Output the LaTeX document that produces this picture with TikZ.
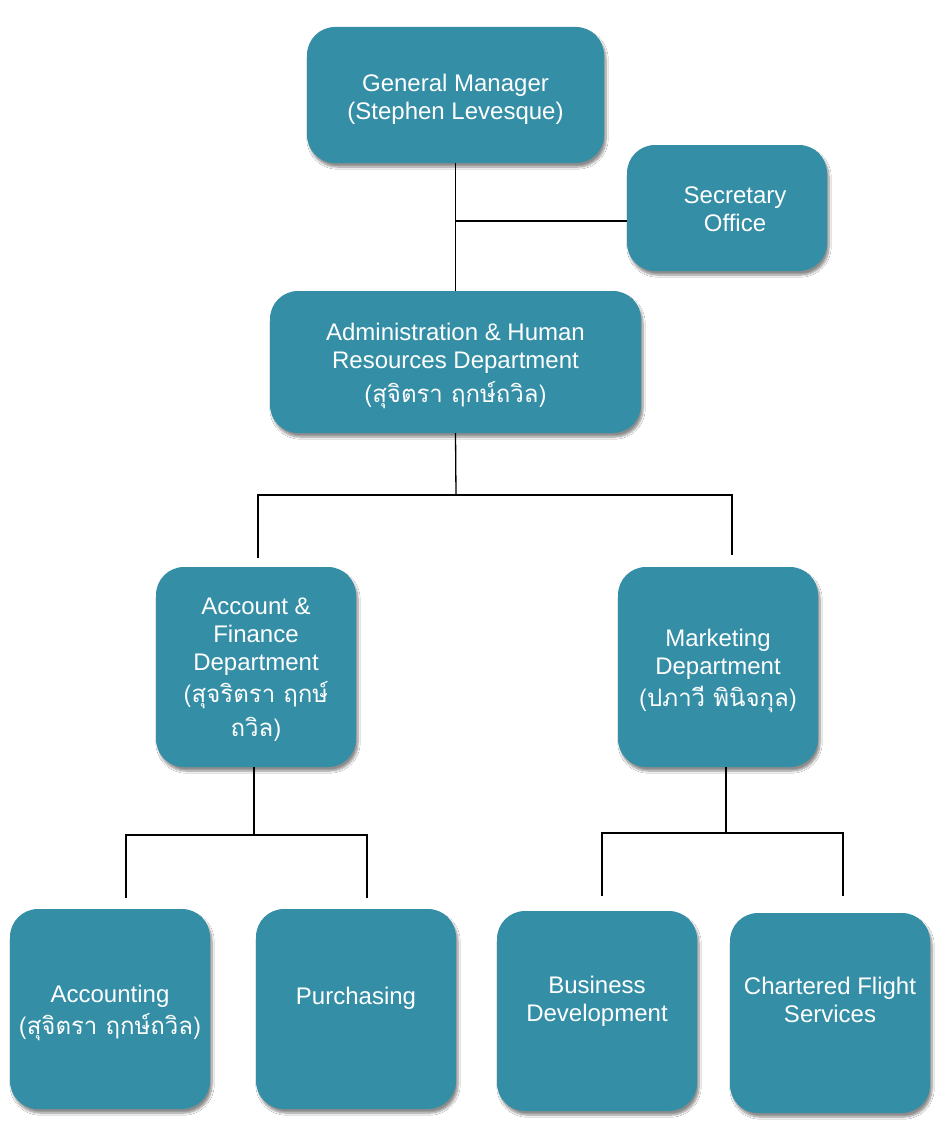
\documentclass[tikz,border=0pt]{standalone}
\usepackage{fontspec}
\setmainfont{Liberation Sans}
\newfontfamily\thai[Script=Thai]{Loma}
\usetikzlibrary{shadows.blur}
\definecolor{boxfill}{RGB}{52,142,166}
\begin{document}
\begin{tikzpicture}[x=1pt,y=-1pt,
  box/.style={fill=boxfill, rounded corners=28pt, inner sep=0pt,
    blur shadow={shadow xshift=2pt, shadow yshift=-4pt, shadow opacity=45, shadow blur steps=8}},
  txt/.style={text=white, align=center, inner sep=0pt, font=\fontsize{24}{28}\selectfont},
  conn/.style={draw=black, line width=1.3pt}]
\useasboundingbox[fill=white] (0,0) rectangle (944,1132);
% boxes
\node[box, minimum width=297pt, minimum height=136pt] (gm) at (455.5,95) {};
\node[box, minimum width=200pt, minimum height=126pt] (sec) at (727,208) {};
\node[box, minimum width=371pt, minimum height=142pt] (admin) at (455.5,362) {};
\node[box, minimum width=200pt, minimum height=200pt] (af) at (256,667) {};
\node[box, minimum width=200pt, minimum height=200pt] (mkt) at (718,667) {};
\node[box, minimum width=200pt, minimum height=200pt] (acc) at (110,1009) {};
\node[box, minimum width=200pt, minimum height=200pt] (pur) at (356,1009) {};
\node[box, minimum width=200pt, minimum height=200pt] (bd) at (597,1011) {};
\node[box, minimum width=200pt, minimum height=200pt] (cf) at (830,1013) {};
% texts
\node[txt, yshift=-4pt] (gmt) at (gm.center) {General Manager\\(Stephen Levesque)};
\node[txt, yshift=-1pt, xshift=8pt] (sect) at (sec.center) {Secretary\\Office};
\node[txt, yshift=-4pt] (admint) at (admin.center) {Administration \& Human\\Resources Department\\[6pt]{\thai (สุจิตรา ฤกษ์ถวิล)}};
\node[txt, yshift=-3pt] (aft) at (af.center) {Account \&\\Finance\\Department\\[4pt]{\thai (สุจริตรา ฤกษ์}\\[6pt]{\thai ถวิล)}};
\node[txt, yshift=-4pt] (mktt) at (mkt.center) {Marketing\\Department\\[4pt]{\thai (ปภาวี พินิจกุล)}};
\node[txt, yshift=-4pt] (acct) at (acc.center) {Accounting\\[4pt]{\thai (สุจิตรา ฤกษ์ถวิล)}};
\node[txt, yshift=11pt] (purt) at (pur.center) {Purchasing};
\node[txt, yshift=10pt] (bdt) at (bd.center) {Business\\Development};
\node[txt, yshift=13pt] (cft) at (cf.center) {Chartered Flight\\Services};
% connectors
\draw[conn] (gm.south) -- (admin.north);
\coordinate (sj) at (456,221);
\draw[conn] (sj -| sec.west) -- (sj);
\coordinate (b1) at (456,495);
\coordinate (b1l) at (258,558);
\coordinate (b1r) at (732,555);
\draw[conn] (admin.south) -- (b1);
\draw[conn] (b1l) |- (b1r |- b1) -- (b1r);
\coordinate (b2) at (254,835);
\coordinate (b2l) at (126,898);
\coordinate (b2r) at (367,898);
\draw[conn] (af.south -| b2) -- (b2);
\draw[conn] (b2l) |- (b2r |- b2) -- (b2r);
\coordinate (b3) at (726,833);
\coordinate (b3l) at (602,896);
\coordinate (b3r) at (843,896);
\draw[conn] (mkt.south -| b3) -- (b3);
\draw[conn] (b3l) |- (b3r |- b3) -- (b3r);
\end{tikzpicture}
\end{document}
